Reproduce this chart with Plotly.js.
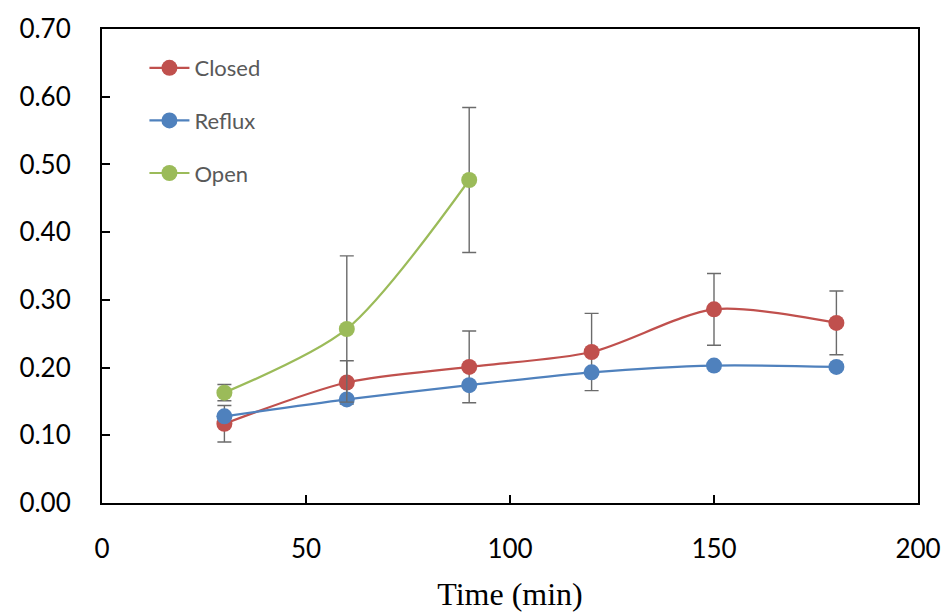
<!DOCTYPE html>
<html>
<head>
<meta charset="utf-8">
<script src="https://cdn.plot.ly/plotly-3.0.1.min.js"></script>
<style>html,body{margin:0;padding:0;background:#fff;}</style>
</head>
<body>
<div id="chart" style="width:943px;height:612px;"></div>
<script>
var timeMin = [30, 60, 90, 120, 150, 180];
var closedVals = [0.117, 0.178, 0.201, 0.223, 0.286, 0.266];
var closedErr = [0.027, 0.032, 0.053, 0.057, 0.053, 0.047];
var refluxVals = [0.128, 0.153, 0.174, 0.193, 0.203, 0.201];
var openTime = [30, 60, 90];
var openVals = [0.163, 0.257, 0.477];
var openErr = [0.012, 0.108, 0.107];
var xTickVals = [0, 50, 100, 150, 200];
var yTickVals = [0, 0.1, 0.2, 0.3, 0.4, 0.5, 0.6, 0.7];

var errStyle = {type: 'data', visible: true, color: '#6b6b6b', thickness: 1.4, width: 7};

var traces = [
  {
    x: timeMin, y: closedVals, name: 'Closed', type: 'scatter', mode: 'lines+markers',
    legendgroup: 'a',
    line: {color: '#C0504D', width: 2.2, shape: 'spline', smoothing: 0.8},
    marker: {color: '#C0504D', size: 16},
    error_y: Object.assign({array: closedErr}, errStyle)
  },
  {
    x: timeMin, y: refluxVals, name: 'Reflux', type: 'scatter', mode: 'lines+markers',
    legendgroup: 'b',
    line: {color: '#4F81BD', width: 2.2, shape: 'spline', smoothing: 0.8},
    marker: {color: '#4F81BD', size: 16}
  },
  {
    x: openTime, y: openVals, name: 'Open', type: 'scatter', mode: 'lines+markers',
    legendgroup: 'c',
    line: {color: '#9BBB59', width: 2.2, shape: 'spline', smoothing: 0.8},
    marker: {color: '#9BBB59', size: 16},
    error_y: Object.assign({array: openErr}, errStyle)
  }
];

var layout = {
  width: 943, height: 612,
  margin: {l: 102, r: 25, t: 29, b: 109},
  paper_bgcolor: '#fff', plot_bgcolor: '#fff',
  font: {family: 'Lato, "Open Sans", sans-serif', color: '#000'},
  showlegend: true,
  legend: {
    x: 0.052, y: 0.962, xanchor: 'left', yanchor: 'top',
    bgcolor: 'rgba(0,0,0,0)',
    font: {size: 22, color: '#595959', family: 'Lato, "Open Sans", sans-serif'},
    tracegroupgap: 21,
    itemwidth: 40
  },
  xaxis: {
    range: [0, 200], tickmode: 'array', tickvals: xTickVals,
    showgrid: false, zeroline: false,
    showline: true, linecolor: '#000', linewidth: 2, mirror: true,
    ticks: 'inside', ticklen: 8, tickwidth: 2, tickcolor: '#000',
    tickfont: {size: 26, color: '#000'},
    ticklabelstandoff: 22,
    title: {text: 'Time (min)', font: {family: '"Liberation Serif", "Times New Roman", serif', size: 32, color: '#000'}, standoff: 22}
  },
  yaxis: {
    range: [0, 0.7], tickmode: 'array', tickvals: yTickVals, tickformat: '.2f',
    showgrid: false, zeroline: false,
    showline: true, linecolor: '#000', linewidth: 2, mirror: true,
    ticks: 'inside', ticklen: 8, tickwidth: 2, tickcolor: '#000',
    tickfont: {size: 26, color: '#000'},
    ticklabelstandoff: 24
  }
};

Plotly.newPlot('chart', traces, layout, {displayModeBar: false, staticPlot: true});
</script>
</body>
</html>
